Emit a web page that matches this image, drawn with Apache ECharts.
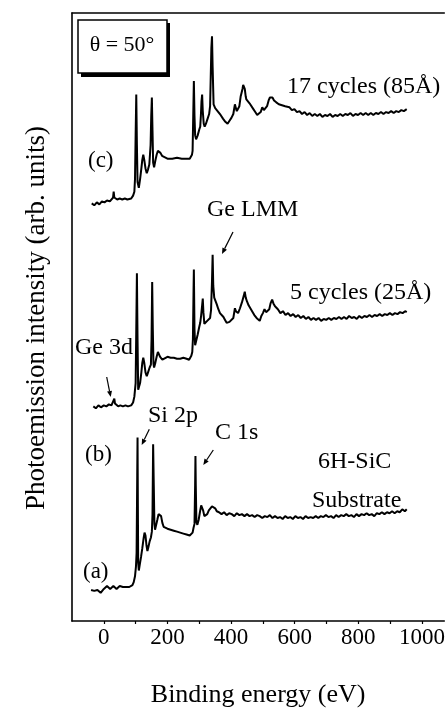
<!DOCTYPE html>
<html>
<head>
<meta charset="utf-8">
<script src="https://cdn.jsdelivr.net/npm/echarts@6/dist/echarts.min.js"></script>
<style>
  html, body { margin: 0; padding: 0; background: #fff; }
  #chart { width: 448px; height: 713px; }
</style>
</head>
<body>
<div id="chart"></div>
<script>
// XPS survey spectra, theta = 50 deg; [binding energy (eV), intensity (arb.)]
const specA = [
  [-40,32],[-35,30],[-30,31],[-25,29],[-20,32],[-15,30],[-10,29],[-5,31],[0,33],[5,35],[10,36],[15,34],
  [20,33],[25,35],[30,36],[35,34],[40,33],[45,35],[50,36],[55,34],[60,35],[65,34],[70,35],[75,34],
  [80,35],[85,36],[90,37],[94,40],[98,46],[101,56],[103,70],[105,150],[106,189],[107,120],[108,60],
  [110,52],[113,58],[117,66],[121,75],[125,85],[128,91],[131,88],[134,78],[137,72],[140,76],[144,82],
  [148,86],[151,92],[153,110],[155,182],[157,140],[159,100],[161,94],[164,96],[168,104],[172,110],
  [176,112],[180,108],[184,101],[188,97],[192,96],[200,95],[210,94],[220,93],[230,92],[240,91],
  [250,90],[260,89],[270,88],[276,87],[279,91],[282,96],[285,100],[287,140],[288,170],[289,140],
  [291,102],[294,99],[298,104],[302,112],[306,119],[309,120],[312,114],[316,108],[320,107],[325,110],
  [330,114],[335,116],[340,118],[345,117],[350,116],[355,113],
  [362,112],[370,110],[378,112],[386,109],[394,111],[402,110],[410,108],[418,111],[426,109],[434,110],
  [442,108],[450,110],[458,108],[466,109],[474,107],[482,109],[490,108],[498,106],[506,108],[514,107],
  [522,109],[530,106],[538,108],[546,106],[554,107],[562,105],[570,108],[578,106],[586,107],[594,105],
  [602,108],[610,106],[618,107],[626,105],[634,108],[642,106],[650,107],[658,106],[666,108],[674,106],
  [682,108],[690,107],[698,109],[706,107],[714,108],[722,106],[730,109],[738,107],[746,109],[754,108],
  [762,110],[770,108],[778,109],[786,107],[794,110],[802,108],[810,110],[818,109],[826,111],[834,109],
  [842,110],[850,108],[858,111],[866,110],[874,112],[882,110],[890,112],[898,111],[906,113],[914,111],
  [922,113],[930,112],[938,115],[946,113],[952,115]
];

const specB = [
  [-33,221],[-25,219],[-17,222],[-9,220],[0,222],[8,221],[16,223],[24,222],[30,224],[33,229],[35,224],
  [40,222],[45,221],[52,222],[60,221],[68,222],[76,221],[86,222],[92,225],[96,231],[100,245],[102,300],
  [104,358],[106,290],[108,238],[110,236],[114,245],[118,256],[121,266],[124,271],[127,266],[131,256],
  [135,252],[139,256],[144,261],[148,264],[150,290],[152,349],[154,300],[156,265],[158,261],[162,266],
  [166,272],[170,277],[173,276],[177,272],[184,269],[190,271],[200,272],[210,271],[220,271],[230,270],
  [240,270],[250,271],[260,270],[268,269],[272,269],[275,273],[278,277],[280,290],[282,340],[283,362],
  [285,300],[287,284],[290,288],[295,295],[300,303],[303,307],[306,315],[309,325],[311,332],[313,318],
  [316,306],[320,307],[325,309],[330,311],[334,312],[337,320],[340,350],[342,377],[344,345],[347,333],
  [350,331],[355,326],[360,321],[365,317],[371,318],[376,313],[381,310],[386,307],[389,306],[395,308],
  [401,310],[407,312],[410,318],[412,322],[415,319],[418,317],[422,317],[428,322],[434,328],[440,335],
  [443,339],[446,333],[450,329],[455,325],[459,324],[466,319],[473,315],[480,312],[485,310],[490,309],
  [495,314],[500,317],[505,321],[510,318],[516,317],[520,321],[524,327],[529,331],[533,327],[538,324],
  [547,321],[555,317],[563,319],[571,315],[579,317],[587,314],[595,316],[603,313],[611,315],[619,312],
  [627,314],[635,311],[643,313],[651,310],[659,312],[667,310],[675,312],[683,309],[691,311],[699,310],
  [707,312],[715,310],[723,312],[731,311],[739,313],[747,311],[755,313],[763,311],[771,314],[779,312],
  [787,313],[795,311],[803,314],[811,312],[819,314],[827,313],[835,315],[843,313],[851,315],[859,314],
  [867,316],[875,314],[883,316],[891,315],[899,317],[907,315],[915,317],[923,316],[931,318],[939,317],
  [947,319],[952,318]
];

const specC = [
  [-38,430],[-30,428],[-22,431],[-14,429],[-6,432],[2,431],[10,433],[19,432],[25,434],[29,436],[31,442],
  [33,436],[38,434],[42,434],[50,435],[58,434],[66,435],[74,434],[86,435],[92,438],[96,442],[98,455],
  [100,500],[102,542],[104,490],[106,452],[110,446],[114,455],[118,466],[121,475],[124,480],[127,475],
  [131,466],[135,461],[139,465],[143,470],[145,472],[147,490],[149,520],[151,539],[153,505],[155,472],
  [158,467],[162,474],[166,480],[170,484],[174,486],[178,482],[183,479],[189,477],[200,476],[215,476],
  [230,477],[245,476],[260,476],[270,476],[275,476],[277,480],[279,484],[281,520],[283,556],[285,520],
  [287,500],[290,496],[295,500],[300,506],[303,509],[305,520],[307,535],[309,542],[311,525],[314,512],
  [317,509],[321,512],[326,517],[331,522],[334,530],[336,560],[338,590],[340,602],[342,570],[345,532],
  [350,528],[355,526],[360,524],[367,521],[375,517],[382,514],[389,512],[395,515],[401,518],[407,522],
  [410,528],[412,532],[415,528],[418,525],[422,524],[426,530],[430,540],[433,544],[436,548],[438,552],
  [441,554],[443,548],[446,540],[448,537],[452,535],[458,533],[464,531],[470,527],[476,524],[482,521],
  [488,519],[493,524],[498,529],[503,526],[508,524],[513,530],[518,536],[522,539],[526,541],[530,539],
  [535,536],[542,534],[550,532],[560,531],[570,530],[583,529],[591,526],[599,527],[607,524],[615,525],
  [623,522],[631,524],[639,521],[647,523],[655,520],[663,522],[671,520],[679,522],[687,519],[695,521],
  [703,520],[711,522],[719,519],[727,521],[735,520],[743,522],[751,520],[759,522],[767,521],[775,523],
  [783,520],[791,522],[799,521],[807,523],[815,521],[823,523],[831,521],[839,523],[847,521],[855,523],
  [863,522],[871,524],[879,522],[887,524],[895,523],[903,525],[911,523],[919,525],[927,524],[935,526],
  [943,525],[952,527]
];

const xTickLabels = [0, 200, 400, 600, 800, 1000];

const FONT = '"Liberation Serif", "Times New Roman", serif';

// small arrow: shaft + filled head at (x2, y2)
function arrow(x1, y1, x2, y2) {
  const ang = Math.atan2(y2 - y1, x2 - x1);
  const L = 6, W = 2.5;
  const bx = x2 - L * Math.cos(ang), by = y2 - L * Math.sin(ang);
  const px = -Math.sin(ang) * W, py = Math.cos(ang) * W;
  return [
    { type: 'line', shape: { x1: x1, y1: y1, x2: bx, y2: by }, style: { stroke: '#000', lineWidth: 1.2 } },
    { type: 'polygon', shape: { points: [[x2, y2], [bx + px, by + py], [bx - px, by - py]] }, style: { fill: '#000' } }
  ];
}

function label(text, x, y, size) {
  return {
    type: 'text', x: x, y: y,
    style: { text: text, font: (size || 24) + 'px ' + FONT, fill: '#000', textVerticalAlign: 'middle' }
  };
}

const spectrumLine = (name, data) => ({
  name: name,
  type: 'line',
  data: data,
  symbol: 'none',
  smooth: false,
  lineStyle: { color: '#000', width: 2 },
  silent: true
});

const chart = echarts.init(document.getElementById('chart'));

chart.setOption({
  backgroundColor: '#fff',
  animation: false,
  grid: { left: 72, right: 0, top: 13, bottom: 74 },
  xAxis: [
    {
      type: 'value',
      min: -100,
      max: 1070,
      interval: 100,
      name: 'Binding energy (eV)',
      nameLocation: 'middle',
      nameGap: 61,
      nameTextStyle: { fontFamily: FONT, fontSize: 26, color: '#000' },
      axisLine: { onZero: false, lineStyle: { color: '#000', width: 1.6 } },
      axisTick: { show: true, length: 3, inside: false, lineStyle: { color: '#000', width: 1.2 } },
      axisLabel: {
        fontFamily: FONT, fontSize: 23, color: '#000', margin: 5,
        showMinLabel: false, showMaxLabel: false,
        formatter: v => (xTickLabels.indexOf(v) >= 0 ? String(v) : '')
      },
      splitLine: { show: false }
    },
    {
      type: 'value',
      position: 'top',
      min: -100,
      max: 1070,
      axisLine: { show: true, onZero: false, lineStyle: { color: '#000', width: 1.6 } },
      axisTick: { show: false },
      axisLabel: { show: false },
      splitLine: { show: false }
    }
  ],
  yAxis: {
    type: 'value',
    position: 'left',
    min: 0,
    max: 626,
    axisLine: { show: true, onZero: false, lineStyle: { color: '#000', width: 1.6 } },
    axisTick: { show: false },
    axisLabel: { show: false },
    splitLine: { show: false }
  },
  series: [
    spectrumLine('(a) 6H-SiC substrate', specA),
    spectrumLine('(b) 5 cycles', specB),
    spectrumLine('(c) 17 cycles', specC)
  ],
  graphic: [
    // y-axis title
    {
      type: 'text', x: 37, y: 318, rotation: Math.PI / 2,
      style: { text: 'Photoemission intensity (arb. units)', font: '27px ' + FONT, fill: '#000', textAlign: 'center', textVerticalAlign: 'middle' }
    },
    // theta box with drop shadow
    { type: 'rect', shape: { x: 81, y: 23, width: 89, height: 54 }, style: { fill: '#000' } },
    { type: 'rect', shape: { x: 78, y: 20, width: 89, height: 53 }, style: { fill: '#fff', stroke: '#000', lineWidth: 1.5 } },
    { type: 'text', x: 122, y: 45, style: { text: 'θ = 50°', font: '22px ' + FONT, fill: '#000', textAlign: 'center', textVerticalAlign: 'middle' } },

    label('17 cycles (85Å)', 287, 87),
    label('(c)', 88, 161, 23),
    label('Ge LMM', 207, 210),
    ...arrow(233, 232, 222, 254),
    label('5 cycles (25Å)', 290, 293),
    label('Ge 3d', 75, 348),
    ...arrow(106.7, 377, 110.7, 397),
    label('Si 2p', 148, 416),
    ...arrow(149.3, 429.3, 141.7, 445),
    label('(b)', 85, 455, 23),
    label('C 1s', 215, 433),
    ...arrow(213.3, 450, 203.3, 465),
    label('6H-SiC', 318, 462),
    label('Substrate', 312, 501),
    label('(a)', 83, 572, 23)
  ]
});
</script>
</body>
</html>
